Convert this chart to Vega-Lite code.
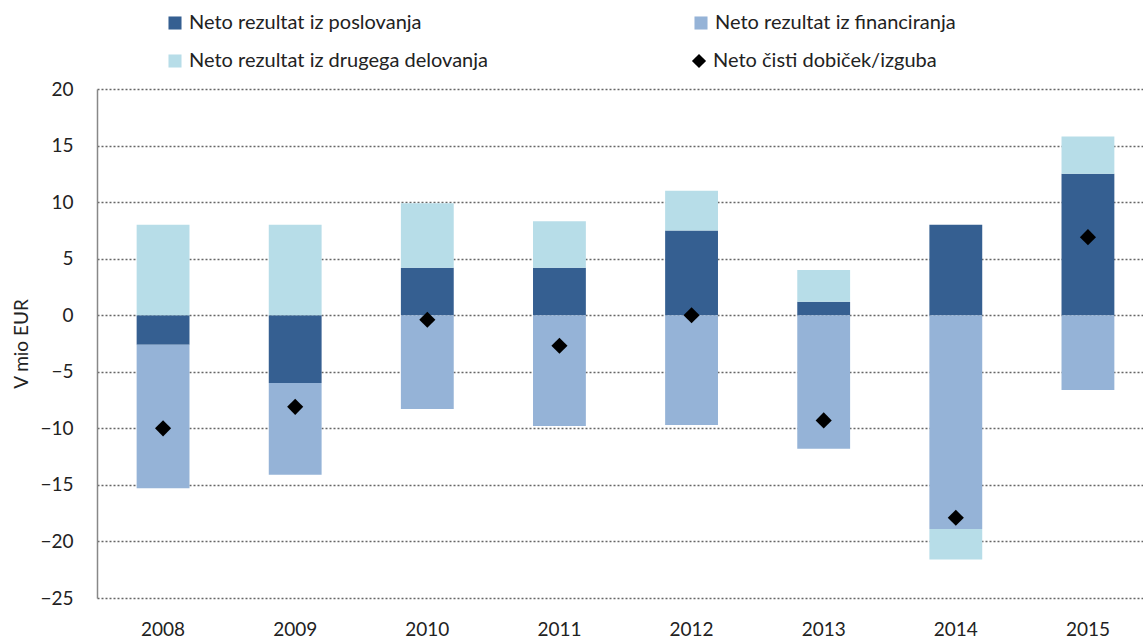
{
  "$schema": "https://vega.github.io/schema/vega-lite/v6.json",
  "autosize": {"type": "none"},
  "padding": {"left": 97, "top": 89, "right": 0, "bottom": 41},
  "width": 1057,
  "height": 509,
  "config": {
    "font": "Lato",
    "view": {"stroke": null},
    "axis": {"labelFont": "Lato", "titleFont": "Lato", "labelColor": "#222", "titleColor": "#222"},
    "legend": {"labelFont": "Lato"}
  },
  "datasets": {
    "bars": [
      {"year": "2008", "cat": "Neto rezultat iz poslovanja", "ord": 1, "value": -2.6},
      {"year": "2008", "cat": "Neto rezultat iz financiranja", "ord": 2, "value": -12.7},
      {"year": "2008", "cat": "Neto rezultat iz drugega delovanja", "ord": 3, "value": 8.0},
      {"year": "2009", "cat": "Neto rezultat iz poslovanja", "ord": 1, "value": -6.0},
      {"year": "2009", "cat": "Neto rezultat iz financiranja", "ord": 2, "value": -8.1},
      {"year": "2009", "cat": "Neto rezultat iz drugega delovanja", "ord": 3, "value": 8.0},
      {"year": "2010", "cat": "Neto rezultat iz poslovanja", "ord": 1, "value": 4.2},
      {"year": "2010", "cat": "Neto rezultat iz financiranja", "ord": 2, "value": -8.3},
      {"year": "2010", "cat": "Neto rezultat iz drugega delovanja", "ord": 3, "value": 5.7},
      {"year": "2011", "cat": "Neto rezultat iz poslovanja", "ord": 1, "value": 4.2},
      {"year": "2011", "cat": "Neto rezultat iz financiranja", "ord": 2, "value": -9.8},
      {"year": "2011", "cat": "Neto rezultat iz drugega delovanja", "ord": 3, "value": 4.1},
      {"year": "2012", "cat": "Neto rezultat iz poslovanja", "ord": 1, "value": 7.5},
      {"year": "2012", "cat": "Neto rezultat iz financiranja", "ord": 2, "value": -9.7},
      {"year": "2012", "cat": "Neto rezultat iz drugega delovanja", "ord": 3, "value": 3.5},
      {"year": "2013", "cat": "Neto rezultat iz poslovanja", "ord": 1, "value": 1.2},
      {"year": "2013", "cat": "Neto rezultat iz financiranja", "ord": 2, "value": -11.8},
      {"year": "2013", "cat": "Neto rezultat iz drugega delovanja", "ord": 3, "value": 2.8},
      {"year": "2014", "cat": "Neto rezultat iz poslovanja", "ord": 1, "value": 8.0},
      {"year": "2014", "cat": "Neto rezultat iz financiranja", "ord": 2, "value": -18.9},
      {"year": "2014", "cat": "Neto rezultat iz drugega delovanja", "ord": 3, "value": -2.7},
      {"year": "2015", "cat": "Neto rezultat iz poslovanja", "ord": 1, "value": 12.5},
      {"year": "2015", "cat": "Neto rezultat iz financiranja", "ord": 2, "value": -6.6},
      {"year": "2015", "cat": "Neto rezultat iz drugega delovanja", "ord": 3, "value": 3.3}
    ],
    "net": [
      {"year": "2008", "series": "Neto čisti dobiček/izguba", "value": -10.0},
      {"year": "2009", "series": "Neto čisti dobiček/izguba", "value": -8.1},
      {"year": "2010", "series": "Neto čisti dobiček/izguba", "value": -0.4},
      {"year": "2011", "series": "Neto čisti dobiček/izguba", "value": -2.7},
      {"year": "2012", "series": "Neto čisti dobiček/izguba", "value": 0.0},
      {"year": "2013", "series": "Neto čisti dobiček/izguba", "value": -9.3},
      {"year": "2014", "series": "Neto čisti dobiček/izguba", "value": -17.9},
      {"year": "2015", "series": "Neto čisti dobiček/izguba", "value": 6.9}
    ]
  },
  "encoding": {
    "x": {
      "field": "year", "type": "nominal",
      "scale": {"paddingInner": 0.6, "paddingOuter": 0.3},
      "axis": {"title": null, "labelAngle": 0, "domain": false, "ticks": false, "labelFontSize": 19, "labelPadding": 22}
    }
  },
  "layer": [
    {
      "data": {"name": "bars"},
      "mark": {"type": "bar"},
      "encoding": {
        "y": {
          "field": "value", "type": "quantitative", "stack": "zero",
          "scale": {"domain": [-25, 20], "nice": false},
          "axis": {
            "title": "V mio EUR", "titleFontSize": 19, "titleFontWeight": "normal", "titlePadding": 8,
            "values": [-25, -20, -15, -10, -5, 0, 5, 10, 15, 20],
            "grid": true, "gridDash": [2, 2], "gridColor": "#666", "gridWidth": 1.5,
            "ticks": false, "labelFontSize": 19, "labelPadding": 24,
            "domain": true, "domainColor": "#888", "domainWidth": 1.5
          }
        },
        "color": {
          "field": "cat", "type": "nominal",
          "scale": {
            "domain": ["Neto rezultat iz poslovanja", "Neto rezultat iz drugega delovanja", "Neto rezultat iz financiranja"],
            "range": ["#355f91", "#b7dde8", "#95b3d7"]
          },
          "legend": {
            "title": null, "orient": "none", "legendX": 68, "legendY": -76, "columns": 2,
            "columnPadding": 203, "rowPadding": 18, "symbolType": "square", "symbolSize": 170,
            "symbolOpacity": 1, "labelFontSize": 20, "labelColor": "#222", "labelLimit": 500, "symbolOffset": 0, "labelOffset": 4
          }
        },
        "order": {"field": "ord", "type": "quantitative"}
      }
    },
    {
      "data": {"name": "net"},
      "mark": {"type": "point", "filled": true, "opacity": 1, "color": "#000", "size": 260},
      "encoding": {
        "y": {"field": "value", "type": "quantitative"},
        "shape": {
          "field": "series", "type": "nominal",
          "scale": {"range": ["diamond"]},
          "legend": {
            "title": null, "orient": "none", "legendX": 592, "legendY": -38,
            "symbolFillColor": "#000", "symbolStrokeColor": "#000", "symbolSize": 200,
            "labelFontSize": 20, "labelColor": "#222", "labelLimit": 500, "labelOffset": 4
          }
        }
      }
    }
  ]
}
